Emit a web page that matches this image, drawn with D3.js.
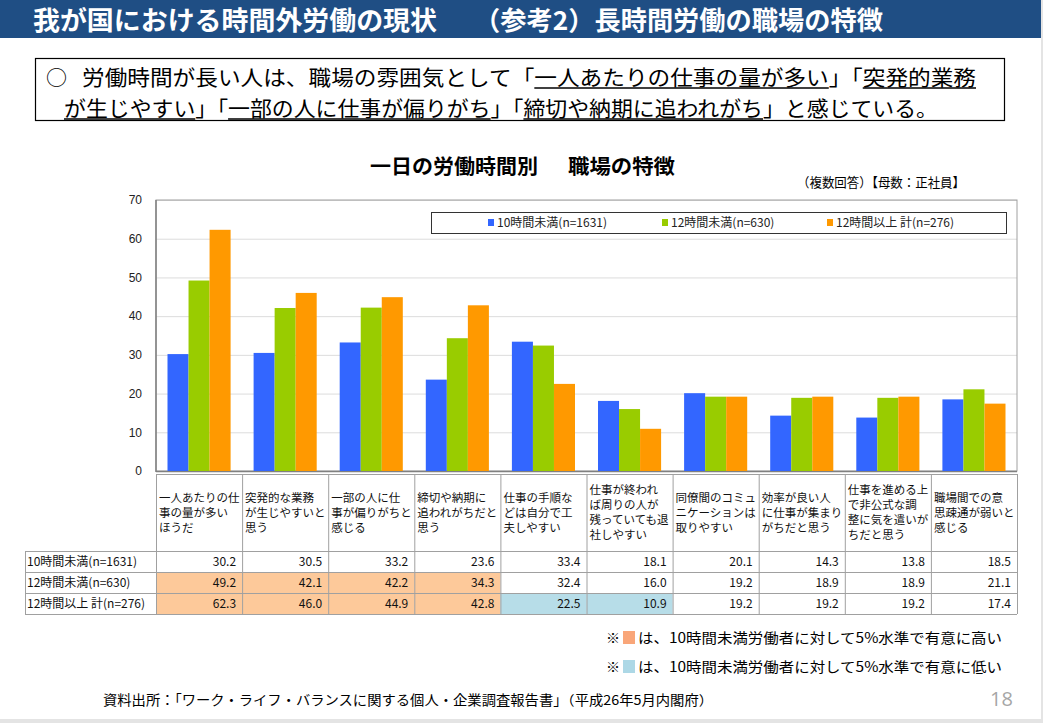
<!DOCTYPE html>
<html>
<head>
<meta charset="utf-8">
<script src="https://cdn.jsdelivr.net/npm/d3@7"></script>
<style>
    body { margin: 0; background: #e4e4e4; }
    svg { display: block; }
    text { font-family: "Noto Sans CJK JP", sans-serif; }
</style>
</head>
<body>
<svg id="chart" width="1043" height="723"></svg>
<script>
// ---- data ----
const categoryLines = [
    ['一人あたりの仕', '事の量が多い', 'ほうだ'],
    ['突発的な業務', 'が生じやすいと', '思う'],
    ['一部の人に仕', '事が偏りがちと', '感じる'],
    ['締切や納期に', '追われがちだと', '思う'],
    ['仕事の手順な', 'どは自分で工', '夫しやすい'],
    ['仕事が終われ', 'ば周りの人が', '残っていても退', '社しやすい'],
    ['同僚間のコミュ', 'ニケーションは', '取りやすい'],
    ['効率が良い人', 'に仕事が集まり', 'がちだと思う'],
    ['仕事を進める上', 'で非公式な調', '整に気を遣いが', 'ちだと思う'],
    ['職場間での意', '思疎通が弱いと', '感じる']
];
const seriesNames = ['10時間未満(n=1631)', '12時間未満(n=630)', '12時間以上 計(n=276)'];
const under10 = [30.2, 30.5, 33.2, 23.6, 33.4, 18.1, 20.1, 14.3, 13.8, 18.5];
const under12 = [49.2, 42.1, 42.2, 34.3, 32.4, 16.0, 19.2, 18.9, 18.9, 21.1];
const over12 = [62.3, 46.0, 44.9, 42.8, 22.5, 10.9, 19.2, 19.2, 19.2, 17.4];
// significance vs 10時間未満: 'h' = higher, 'l' = lower, '' = none
const sigUnder10 = ['', '', '', '', '', '', '', '', '', ''];
const sigUnder12 = ['h', 'h', 'h', 'h', '', '', '', '', '', ''];
const sigOver12 = ['h', 'h', 'h', 'h', 'l', 'l', '', '', '', ''];
const yTicks = [0, 10, 20, 30, 40, 50, 60, 70];

const seriesValues = [under10, under12, over12];
const seriesSig = [sigUnder10, sigUnder12, sigOver12];
const barColors = ['#3366ff', '#99cc00', '#ff9900'];
const sigColors = { h: '#fdc99a', l: '#b7dde8' };
const noteColors = { h: '#f9a679', l: '#add8e6' };

const svg = d3.select('#chart');

// page
svg.append('rect').attr('width', 1041).attr('height', 719).attr('fill', '#fff');

// header bar
svg.append('rect').attr('width', 1041).attr('height', 38).attr('fill', '#1f4e84');
svg.append('text').attr('x', 33).attr('y', 30).attr('fill', '#fff')
    .attr('font-size', 26).attr('font-weight', 'bold')
    .attr('textLength', 404).attr('lengthAdjust', 'spacingAndGlyphs')
    .text('我が国における時間外労働の現状');
svg.append('text').attr('x', 474).attr('y', 30).attr('fill', '#fff')
    .attr('font-size', 26).attr('font-weight', 'bold')
    .attr('textLength', 409).attr('lengthAdjust', 'spacingAndGlyphs')
    .text('（参考2）長時間労働の職場の特徴');

// summary box
svg.append('rect').attr('x', 35.5).attr('y', 58.5).attr('width', 969).attr('height', 62)
    .attr('fill', '#fff').attr('stroke', '#000').attr('stroke-width', 1.2);

svg.append('text').attr('x', 46).attr('y', 85).attr('font-size', 21).text('○');

// each part is its own text element, laid out one after another
function boxLine(x0, y0, width, parts) {
    const g = svg.append('g');
    const nodes = parts.map(([str, ul]) => {
        const t = g.append('text').attr('y', y0).attr('font-size', 21).text(str);
        return { t, ul, w: t.node().getComputedTextLength() };
    });
    const scale = width / d3.sum(nodes, (d) => d.w);
    let cx = x0;
    nodes.forEach((d) => {
        const w = d.w * scale;
        d.t.attr('x', cx).attr('textLength', w).attr('lengthAdjust', 'spacingAndGlyphs');
        if (d.ul) {
            g.append('line').attr('x1', cx).attr('x2', cx + w)
                .attr('y1', y0 + 3).attr('y2', y0 + 3)
                .attr('stroke', '#000').attr('stroke-width', 1.5);
        }
        cx += w;
    });
}
boxLine(82, 85, 894, [
    ['労働時間が長い人は、職場の雰囲気として「', false],
    ['一人あたりの仕事の量が多い', true],
    ['」「', false],
    ['突発的業務', true]
]);
boxLine(64, 116, 874, [
    ['が生じやすい', true],
    ['」「', false],
    ['一部の人に仕事が偏りがち', true],
    ['」「', false],
    ['締切や納期に追われがち', true],
    ['」と感じている。', false]
]);

// chart title
svg.append('text').attr('x', 370).attr('y', 174).attr('font-size', 20).attr('font-weight', 'bold')
    .attr('textLength', 168).attr('lengthAdjust', 'spacingAndGlyphs').text('一日の労働時間別');
svg.append('text').attr('x', 568).attr('y', 174).attr('font-size', 20).attr('font-weight', 'bold')
    .attr('textLength', 107).attr('lengthAdjust', 'spacingAndGlyphs').text('職場の特徴');
svg.append('text').attr('x', 797).attr('y', 187).attr('font-size', 13)
    .attr('textLength', 168).attr('lengthAdjust', 'spacingAndGlyphs').text('（複数回答）【母数：正社員】');

// ---- plot ----
const plot = { left: 156, right: 1017, top: 200, bottom: 471 };

const x = d3.scaleBand().domain(d3.range(categoryLines.length))
    .range([plot.left, plot.right]).padding(0);
const xInner = d3.scaleBand().domain(d3.range(seriesNames.length))
    .range([11.5, x.bandwidth() - 11.5]).padding(0);
const y = d3.scaleLinear().domain([0, 70]).range([plot.bottom, plot.top]);

// gridlines
svg.append('g')
    .attr('transform', `translate(${plot.left},0)`)
    .call(d3.axisLeft(y).tickValues(yTicks).tickSize(-(plot.right - plot.left)).tickFormat(''))
    .call((g) => g.select('.domain').remove())
    .call((g) => g.selectAll('line').attr('stroke', '#dcdcdc'));

// y labels
svg.append('g')
    .attr('transform', `translate(${plot.left},0)`)
    .call(d3.axisLeft(y).tickValues(yTicks).tickSize(0).tickPadding(14))
    .call((g) => g.select('.domain').remove())
    .call((g) => g.selectAll('text').attr('font-size', 12).attr('fill', '#222')
        .style('font-family', '"Liberation Sans", Arial, sans-serif'));

// plot frame
svg.append('rect').attr('x', plot.left).attr('y', plot.top)
    .attr('width', plot.right - plot.left).attr('height', plot.bottom - plot.top)
    .attr('fill', 'none').attr('stroke', '#a0a0a0');
svg.append('line').attr('x1', plot.left).attr('x2', plot.left)
    .attr('y1', plot.top).attr('y2', plot.bottom + 1).attr('stroke', '#808080').attr('stroke-width', 1.5);
svg.append('line').attr('x1', plot.left).attr('x2', plot.right)
    .attr('y1', plot.bottom + 0.5).attr('y2', plot.bottom + 0.5).attr('stroke', '#808080').attr('stroke-width', 1.5);

// bars
const barData = [];
categoryLines.forEach((c, i) => {
    seriesValues.forEach((vals, s) => barData.push({ i, s, v: vals[i] }));
});
svg.append('g').selectAll('rect')
    .data(barData)
    .join('rect')
    .attr('x', (d) => x(d.i) + xInner(d.s))
    .attr('y', (d) => y(d.v))
    .attr('width', xInner.bandwidth())
    .attr('height', (d) => y(0) - y(d.v))
    .attr('fill', (d) => barColors[d.s]);

// legend
const legend = svg.append('g');
legend.append('rect').attr('x', 431.5).attr('y', 212.5).attr('width', 575).attr('height', 21)
    .attr('fill', '#fff').attr('stroke', '#333');
const legendX = [488, 662, 827];
seriesNames.forEach((name, s) => {
    legend.append('rect').attr('x', legendX[s]).attr('y', 219).attr('width', 6).attr('height', 7)
        .attr('fill', barColors[s]);
    legend.append('text').attr('x', legendX[s] + 9).attr('y', 227).attr('font-size', 12)
        .attr('fill', '#222').text(name);
});

// ---- data table ----
const table = { headTop: 474, headBottom: 551, rowH: 21, labelLeft: 25 };
const tg = svg.append('g');

// highlighted cells
seriesSig.forEach((sig, s) => {
    tg.selectAll(null)
        .data(sig.map((k, i) => ({ k, i })).filter((d) => d.k))
        .join('rect')
        .attr('x', (d) => x(d.i))
        .attr('y', table.headBottom + s * table.rowH)
        .attr('width', x.bandwidth())
        .attr('height', table.rowH)
        .attr('fill', (d) => sigColors[d.k]);
});

const tableBottom = table.headBottom + seriesNames.length * table.rowH;
// vertical lines of category columns
d3.range(categoryLines.length + 1).forEach((i) => {
    const xx = i < categoryLines.length ? x(i) : plot.right;
    tg.append('line').attr('x1', xx + 0.5).attr('x2', xx + 0.5)
        .attr('y1', table.headTop).attr('y2', tableBottom).attr('stroke', '#a0a0a0');
});
tg.append('line').attr('x1', plot.left).attr('x2', plot.right)
    .attr('y1', table.headTop + 0.5).attr('y2', table.headTop + 0.5).attr('stroke', '#a0a0a0');
d3.range(seriesNames.length + 1).forEach((r) => {
    const yy = table.headBottom + r * table.rowH + 0.5;
    tg.append('line').attr('x1', table.labelLeft).attr('x2', plot.right)
        .attr('y1', yy).attr('y2', yy).attr('stroke', '#a0a0a0');
});
tg.append('line').attr('x1', table.labelLeft + 0.5).attr('x2', table.labelLeft + 0.5)
    .attr('y1', table.headBottom).attr('y2', tableBottom).attr('stroke', '#a0a0a0');

// category header labels
const headMid = (table.headTop + table.headBottom) / 2;
categoryLines.forEach((lines, i) => {
    const t = tg.append('text').attr('font-size', 11.5).attr('fill', '#111');
    lines.forEach((ln, k) => {
        t.append('tspan').attr('x', x(i) + 3)
            .attr('y', headMid + (k - (lines.length - 1) / 2) * 15 + 4)
            .text(ln);
    });
});

// row labels and values
seriesNames.forEach((name, s) => {
    const cy = table.headBottom + s * table.rowH + table.rowH / 2 + 4.5;
    tg.append('text').attr('x', 27).attr('y', cy).attr('font-size', 12).attr('fill', '#111').text(name);
    tg.selectAll(null)
        .data(seriesValues[s])
        .join('text')
        .attr('x', (d, i) => x(i) + x.bandwidth() - 6)
        .attr('y', cy)
        .attr('text-anchor', 'end')
        .attr('font-size', 12)
        .attr('fill', '#111')
        .text((d) => d.toFixed(1));
});

// ---- notes ----
const notes = [
    ['h', 'は、10時間未満労働者に対して5%水準で有意に高い', 643],
    ['l', 'は、10時間未満労働者に対して5%水準で有意に低い', 672]
];
notes.forEach(([k, str, yy]) => {
    svg.append('text').attr('x', 606).attr('y', yy).attr('font-size', 14).text('※');
    svg.append('rect').attr('x', 623).attr('y', yy - 12).attr('width', 12).attr('height', 13)
        .attr('fill', noteColors[k]);
    svg.append('text').attr('x', 638).attr('y', yy).attr('font-size', 14)
        .attr('textLength', 364).attr('lengthAdjust', 'spacingAndGlyphs').text(str);
});

svg.append('text').attr('x', 103).attr('y', 705).attr('font-size', 13.5)
    .attr('textLength', 610).attr('lengthAdjust', 'spacingAndGlyphs')
    .text('資料出所：「ワーク・ライフ・バランスに関する個人・企業調査報告書」（平成26年5月内閣府）');

svg.append('text').attr('x', 990).attr('y', 706).attr('font-size', 20).attr('fill', '#a6a6a6')
    .style('font-family', '"Open Sans", sans-serif').text('18');
</script>
</body>
</html>
